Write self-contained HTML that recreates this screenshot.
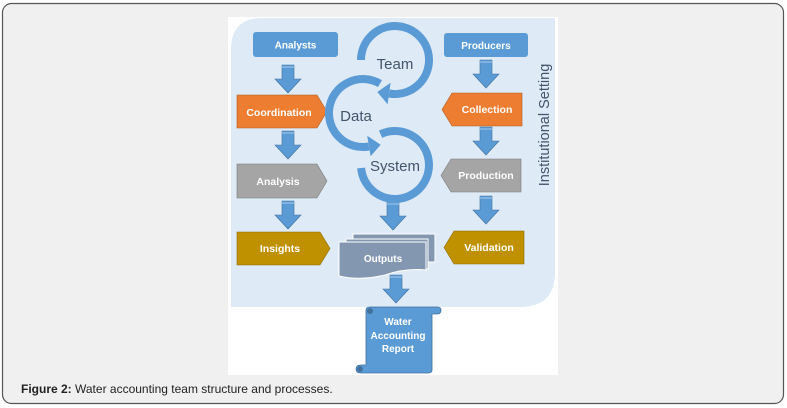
<!DOCTYPE html>
<html><head><meta charset="utf-8"><style>
html,body{margin:0;padding:0;background:#fff;}
svg{display:block;font-family:"Liberation Sans",sans-serif;}
</style></head><body>
<svg width="787" height="408" viewBox="0 0 787 408" xmlns="http://www.w3.org/2000/svg">
<rect x="2.5" y="3.5" width="781" height="400" rx="9" fill="#f0f0f0" stroke="#555" stroke-width="1.2"/>
<rect x="228" y="17" width="330" height="358" fill="#fff"/>
<path d="M262 18 H555 V272 Q555 307 520 307 H231 V50 Q231 18 262 18 Z" fill="#deeaf6"/>
<text transform="translate(549,125) rotate(-90)" text-anchor="middle" font-size="14.5" fill="#44546a">Institutional Setting</text>

<defs>
<g id="dn"><path d="M-6 0 H6 V14 H13 L0 28 L-13 14 H-6 Z" fill="#5b9bd5" stroke="#41719c" stroke-width="0.6"/><rect x="-6" y="1" width="12" height="2" fill="#7fb2e0"/></g>
</defs>

<rect x="253" y="32" width="85" height="25" rx="3" fill="#5b9bd5"/>
<text x="295.5" y="48.5" text-anchor="middle" font-size="10" font-weight="bold" fill="#fff">Analysts</text>
<rect x="444" y="33" width="84" height="24" rx="3" fill="#5b9bd5"/>
<text x="486" y="49" text-anchor="middle" font-size="10" font-weight="bold" fill="#fff">Producers</text>

<use href="#dn" x="288" y="65"/><use href="#dn" x="288" y="131"/><use href="#dn" x="288" y="201"/>
<use href="#dn" x="486" y="60"/><use href="#dn" x="486" y="127"/><use href="#dn" x="486" y="196"/>
<use href="#dn" x="393" y="202"/><use href="#dn" x="396" y="275"/>

<polygon points="237,95 317,95 327,111.5 317,128 237,128" fill="#ed7d31" stroke="#ae5a21" stroke-width="0.6"/>
<text x="279" y="116" text-anchor="middle" font-size="10.5" font-weight="bold" fill="#fff">Coordination</text>
<polygon points="237,164 317,164 327,181 317,198 237,198" fill="#a5a5a5" stroke="#7b7b7b" stroke-width="0.6"/>
<text x="278" y="185" text-anchor="middle" font-size="10.5" font-weight="bold" fill="#fff">Analysis</text>
<polygon points="237,232 320,232 330,248.5 320,265 237,265" fill="#bf9000" stroke="#8c6a00" stroke-width="0.6"/>
<text x="280" y="252" text-anchor="middle" font-size="10.5" font-weight="bold" fill="#fff">Insights</text>

<polygon points="442,109.5 452,93 522,93 522,126 452,126" fill="#ed7d31" stroke="#ae5a21" stroke-width="0.6"/>
<text x="487" y="113" text-anchor="middle" font-size="10.5" font-weight="bold" fill="#fff">Collection</text>
<polygon points="441,175.5 451,159 521,159 521,192 451,192" fill="#a5a5a5" stroke="#7b7b7b" stroke-width="0.6"/>
<text x="486" y="179" text-anchor="middle" font-size="10.5" font-weight="bold" fill="#fff">Production</text>
<polygon points="444,247.5 454,231 524,231 524,264 454,264" fill="#bf9000" stroke="#8c6a00" stroke-width="0.6"/>
<text x="489" y="251" text-anchor="middle" font-size="10.5" font-weight="bold" fill="#fff">Validation</text>

<g fill="none" stroke="#5b9bd5" stroke-width="8">
<path d="M361 60 A34 34 0 1 1 389.1 93.5"/>
<path d="M380 83.6 A34 34 0 1 0 368.9 146.5"/>
<path d="M380.6 134.2 A34 34 0 1 1 361.1 168"/>
</g>
<polygon points="390.6,82.7 387.6,104.3 377.3,92" fill="#5b9bd5"/>
<polygon points="370.6,156.3 367.2,135.7 380.7,144.8" fill="#5b9bd5"/>
<text x="395" y="69" text-anchor="middle" font-size="15" fill="#44546a">Team</text>
<text x="356" y="121" text-anchor="middle" font-size="15" fill="#44546a">Data</text>
<text x="395" y="171" text-anchor="middle" font-size="15" fill="#44546a">System</text>

<rect x="353" y="234" width="82" height="28" fill="#8497b0" stroke="#fff" stroke-width="1"/>
<rect x="346" y="239" width="82" height="30" fill="#8497b0" stroke="#fff" stroke-width="1"/>
<path d="M339 242 H426 V270 Q405 268 385 275 Q360 281 339 276 Z" fill="#8497b0" stroke="#fff" stroke-width="1"/>
<text x="383" y="262" text-anchor="middle" font-size="10" font-weight="bold" fill="#fff">Outputs</text>

<path d="M366 310 Q366 307 370 307 H437 Q441 307 441 310 Q441 314 437 314 H432 V370 Q432 373 428 373 H361 Q356 373 356 369 Q356 365 361 365 H366 Z" fill="#5b9bd5" stroke="#41719c" stroke-width="0.8"/>
<circle cx="370" cy="311" r="3" fill="#41719c"/>
<circle cx="360" cy="369" r="3" fill="#41719c"/>
<text text-anchor="middle" font-size="10" font-weight="bold" fill="#fff"><tspan x="398" y="325">Water</tspan><tspan x="398" y="339">Accounting</tspan><tspan x="398" y="352">Report</tspan></text>

<text x="21" y="393" font-size="12" fill="#222"><tspan font-weight="bold">Figure 2:</tspan> Water accounting team structure and processes.</text>
</svg>
</body></html>
